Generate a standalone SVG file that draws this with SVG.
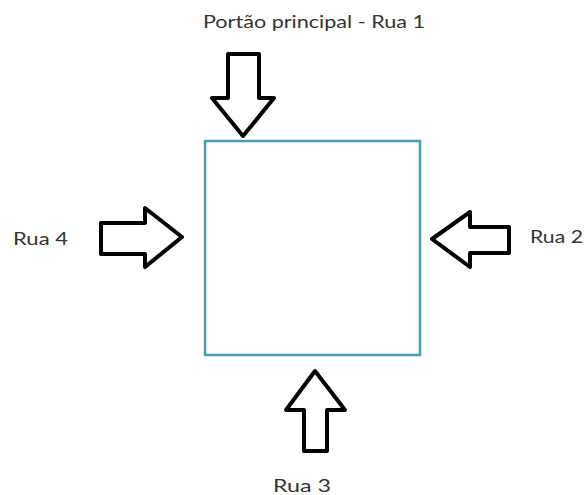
<svg xmlns="http://www.w3.org/2000/svg" width="587" height="495" viewBox="0 0 587 495">
<style>
.lbl{font-family:"Lato","Noto Sans","Liberation Sans",sans-serif;font-size:17px;fill:#333333}
.arr{fill:#ffffff;stroke:#000000;stroke-width:4;stroke-linejoin:round}
</style>
<rect width="587" height="495" fill="#ffffff"/>
<g id="area">
<rect x="205" y="141" width="215" height="214" fill="none" stroke="#4a9aba" stroke-width="2.5"/>
</g>
<g id="connectors">
<polygon class="arr" points="228,54 259,54 259,98 274,98 243,136 212,98 228,98"/>
<polygon class="arr" points="101,223 145,223 145,208 182,237 145,267 145,254 101,254"/>
<polygon class="arr" points="509,227 470,227 470,212 432,239 470,267 470,253 509,253"/>
<polygon class="arr" points="304,451 327,451 327,410 345,410 315,371 286,410 304,410"/>
</g>
<g id="rua1"><text class="lbl" x="203" y="28" textLength="222" lengthAdjust="spacingAndGlyphs">Portão principal - Rua 1</text></g>
<g id="rua4"><text class="lbl" x="13" y="245" textLength="55" lengthAdjust="spacingAndGlyphs">Rua 4</text></g>
<g id="rua2"><text class="lbl" x="530" y="243" textLength="53" lengthAdjust="spacingAndGlyphs">Rua 2</text></g>
<g id="rua3"><text class="lbl" x="273" y="492" textLength="58" lengthAdjust="spacingAndGlyphs">Rua 3</text></g>
</svg>
